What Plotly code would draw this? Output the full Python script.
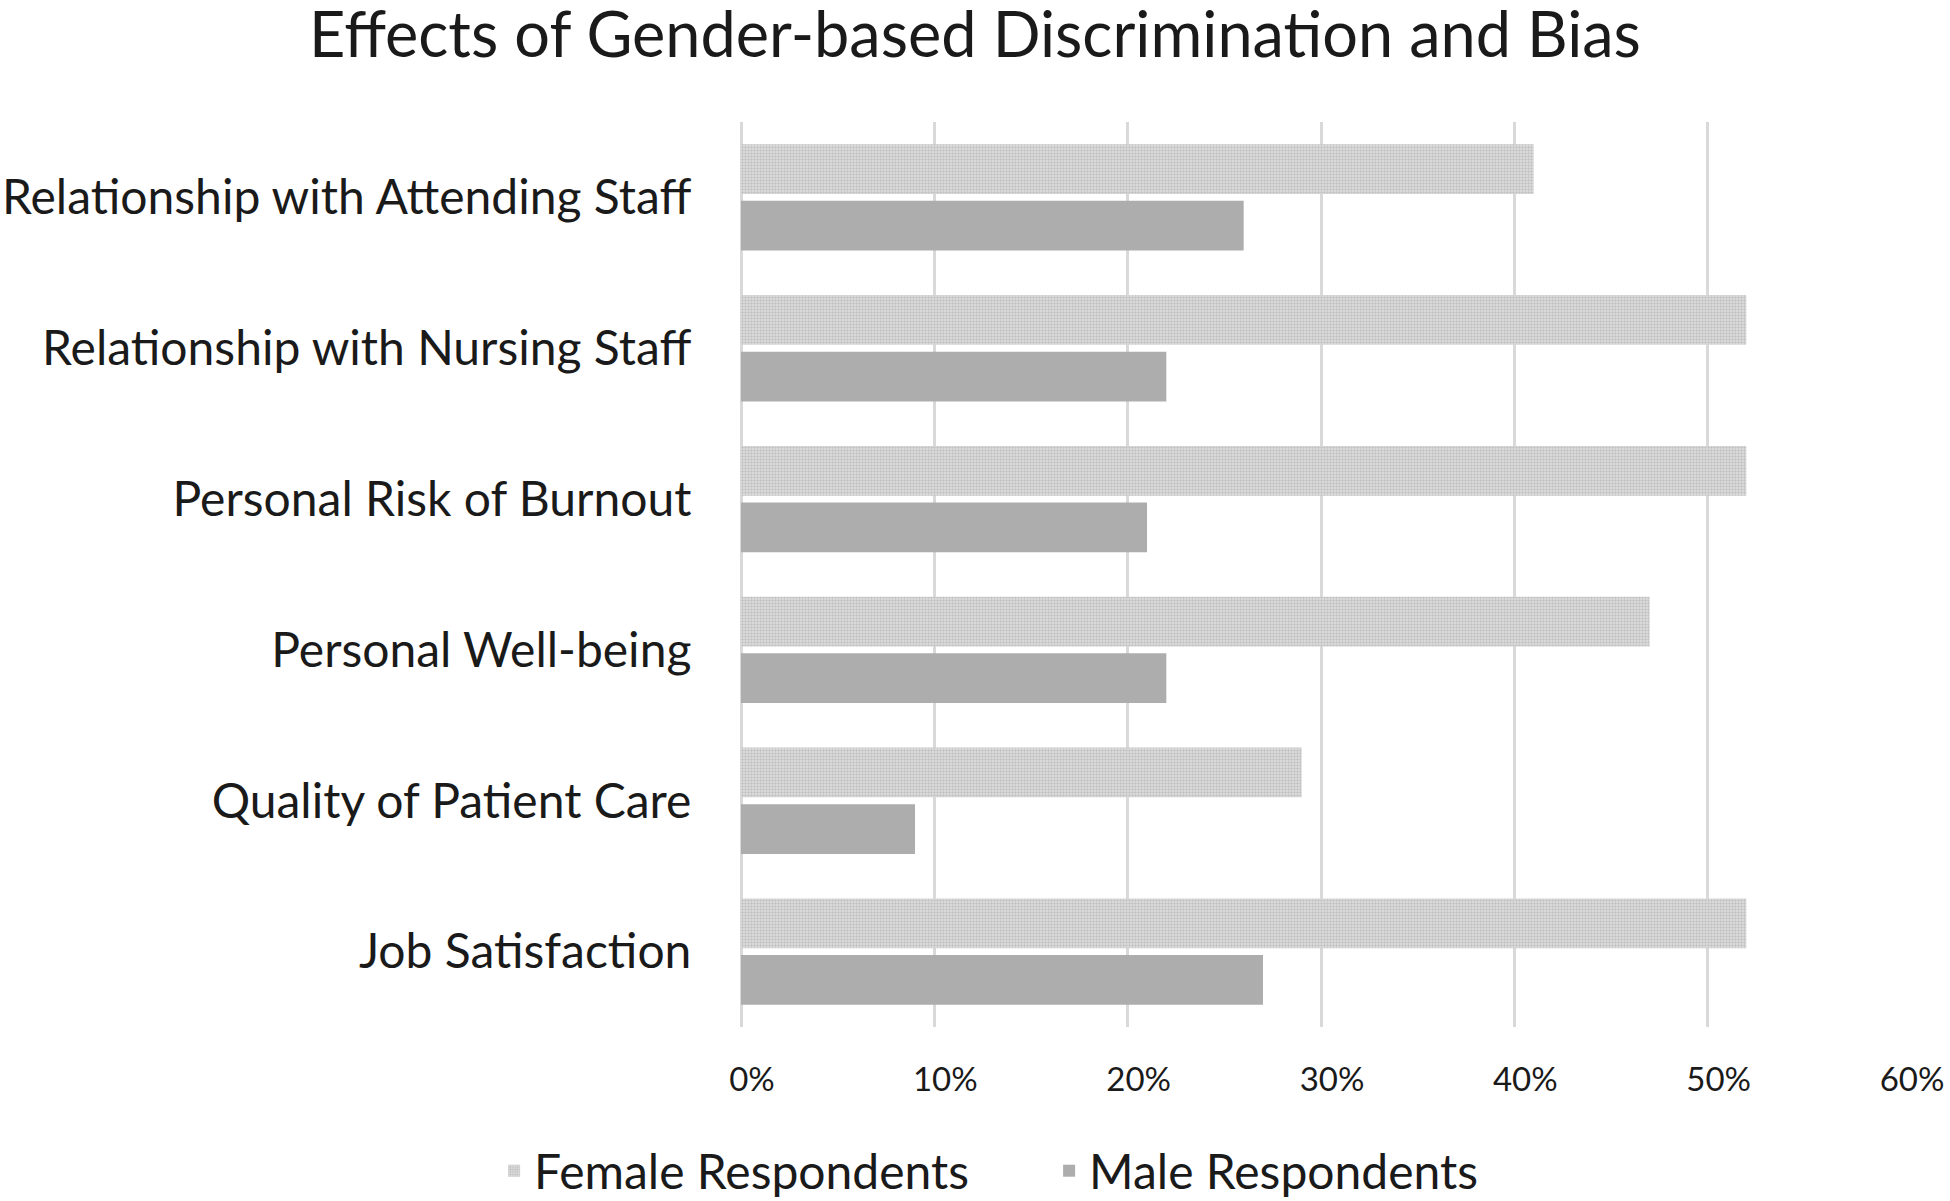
import plotly.graph_objects as go

categories = [
    "Relationship with Attending Staff",
    "Relationship with Nursing Staff",
    "Personal Risk of Burnout",
    "Personal Well-being",
    "Quality of Patient Care",
    "Job Satisfaction",
]
female = [0.41, 0.52, 0.52, 0.47, 0.29, 0.52]
male = [0.26, 0.22, 0.21, 0.22, 0.09, 0.27]
x_ticks = [0, 0.1, 0.2, 0.3, 0.4, 0.5, 0.6]
x_tick_labels = ["0%", "10%", "20%", "30%", "40%", "50%", "60%"]

FONT = "Lato"
TXT = "#1a1a1a"

fig = go.Figure()
fig.add_trace(go.Bar(
    y=categories, x=female, orientation="h", name="Female Respondents",
    marker=dict(color="#d8d8d8", line=dict(width=0),
                pattern=dict(shape=".", size=3, solidity=0.5,
                             fgcolor="#a2a2a2", bgcolor="#e0e0e0")),
))
fig.add_trace(go.Bar(
    y=categories, x=male, orientation="h", name="Male Respondents",
    marker=dict(color="#adadad", line=dict(width=0)),
))

fig.update_layout(
    width=1950, height=1201,
    paper_bgcolor="white", plot_bgcolor="white",
    margin=dict(l=741, r=49, t=122, b=174, autoexpand=False),
    barmode="group", bargap=0.25, bargroupgap=0.12,
    font=dict(family=FONT, color=TXT),
    title=dict(text="Effects of Gender-based Discrimination and Bias",
               x=0.5, xref="container", xanchor="center",
               y=1 - 35 / 1201, yref="container", yanchor="middle",
               font=dict(family=FONT, size=63, color=TXT)),
    legend=dict(orientation="h", xref="container", x=0.538, xanchor="center",
                yref="container", y=1 - 1171 / 1201, yanchor="middle",
                font=dict(family=FONT, size=48, color=TXT),
                itemsizing="constant", entrywidthmode="pixels", entrywidth=510,
                traceorder="normal"),
    showlegend=True,
)
fig.update_xaxes(
    range=[0, 0.6], tickvals=x_ticks, ticktext=x_tick_labels,
    showgrid=True, gridcolor="#d9d9d9", gridwidth=2.5,
    zeroline=True, zerolinecolor="#d9d9d9", zerolinewidth=2.5,
    showline=False, ticks="outside", ticklen=23, tickcolor="rgba(0,0,0,0)",
    tickfont=dict(family=FONT, size=33, color=TXT), ticklabelshift=11,
    fixedrange=True, automargin=False,
)
fig.update_yaxes(
    autorange="reversed", showgrid=False, zeroline=False, showline=False,
    ticks="outside", ticklen=39, tickcolor="rgba(0,0,0,0)",
    tickfont=dict(family=FONT, size=48, color=TXT), automargin=False,
)

fig.write_html("out.html", config={"displayModeBar": False},
               post_script="document.body.style.margin='0';")
